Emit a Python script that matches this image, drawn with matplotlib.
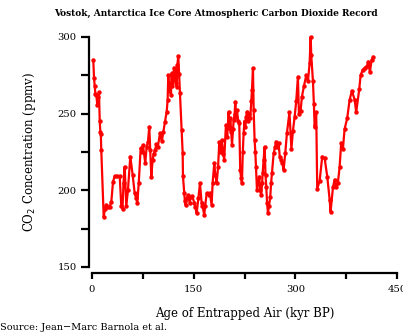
import matplotlib
matplotlib.use("Agg")
import matplotlib.pyplot as plt
from matplotlib.ticker import MultipleLocator

# Vostok CO2 record
age = [1.9, 3, 4, 5, 6.5, 7.8, 9, 10.3, 11.4, 12.3, 13, 13.7, 17.3, 19, 21.1,
       23, 26.1, 28.5, 31, 33.5, 37, 40.9, 43.2, 45, 46.5, 48.2, 50.6, 53,
       56.5, 60, 63, 65.3, 66.8, 69, 71.8, 73.5, 75.2, 78.6, 80.5, 82.6, 84.5,
       86, 87.5, 89.5, 91, 92.9, 95, 97, 100.3, 103, 105.2, 107.7, 110.2,
       111.6, 112.5, 114, 115, 116.5, 117.5, 118.5, 119.9, 121, 122.4, 123.5,
       124.9, 126, 127.3, 128.5, 129.8, 132.3, 133.8, 134.2, 136.1, 137,
       138.2, 140, 142, 144, 146, 148, 150.9, 152.5, 154.4, 157, 159.3, 161.8,
       163, 165.6, 167, 169.2, 172, 174, 176.5, 178, 180.4, 182, 183.9, 186,
       187.8, 189.5, 191.3, 193.7, 195, 197.6, 199.5, 201.6, 203, 204, 205.5,
       206.5, 208, 209, 210.5, 211.4, 212.5, 213.9, 215.5, 217.3, 218.7, 220,
       221.2, 222.5, 223.7, 225, 226.1, 227.5, 228.6, 230, 231.5, 233.5, 235,
       236, 237.5, 238.5, 239.9, 241, 241.9, 243.4, 245, 246.8, 248, 249.7,
       251, 251.8, 253.2, 254.7, 256, 257.1, 258.3, 259.6, 261.2, 263, 264.3,
       265.5, 268, 270, 271.4, 273.5, 275.4, 277, 279.2, 281, 282.7, 285.1,
       287.6, 291.3, 294.2, 296.5, 299, 301.3, 303.8, 305.3, 307.8, 309.7,
       312.7, 316.1, 318.6, 321.1, 322.6, 323.5, 326, 327.4, 328.5, 330.8,
       332.3, 335.8, 339.7, 343.2, 347.1, 350.6, 352, 355.5, 358, 360.3, 362.8,
       365.3, 367.7, 370.2, 372.7, 376.5, 380.1, 383.5, 387.5, 389.8, 394.3,
       396.3, 399.3, 402.7, 406, 407.5, 410, 412.5, 414.9]
co2 = [285, 273, 268, 263, 262, 255.6, 261, 264, 245.4, 238, 236.7, 226, 182.4,
       188, 190.4, 189, 189.3, 192.5, 205.6, 209.3, 209.3, 209.3, 189.8, 188,
       205, 215.4, 189.8, 200, 222, 210, 198, 194.8, 191.5, 205, 227.4, 225,
       229.5, 217.6, 228, 231.7, 241.5, 226, 209, 220, 224, 226, 230, 228,
       237.2, 232, 238.2, 244.8, 251.3, 258.9, 275.2, 265, 269.8, 262, 276.3,
       268, 272, 280, 278.5, 270, 267.6, 282, 287.6, 276, 263.3, 239.3, 224.1,
       209.3, 198, 193, 190.4, 195, 196.9, 192, 195.8, 196, 191.9, 189, 185,
       195, 204.6, 191.5, 190, 183.9, 190, 198, 197, 198, 190.4, 205, 217.6,
       210, 204.6, 215, 231.7, 225, 232.8, 224, 219.8, 242.6, 235, 251.3, 240,
       247, 238, 229.5, 240, 245.9, 250, 257.8, 248, 252.4, 245, 243.7, 213.2,
       208, 204.6, 225, 237.2, 245, 241.5, 248, 251.3, 245, 250, 247, 258,
       265.4, 279.6, 252.4, 232.8, 225, 215.4, 200.2, 205, 208.9, 200, 196.9,
       205, 211.1, 220, 228.4, 210, 202.4, 192, 185, 190, 195.8, 205, 211.1,
       224.1, 228, 231.7, 228, 230.7, 222, 219.8, 218, 213.2, 224.1, 237.2,
       251, 227, 239, 248, 258, 274, 250, 252, 261, 268, 275, 271, 283, 300,
       288, 271, 256, 241, 251, 201, 206, 222, 221, 209, 194, 186, 202, 207,
       202, 205, 215, 231, 227, 240, 247, 259, 265, 259, 251, 266, 275, 278.5,
       280, 281, 284, 277, 285, 287]

plt.rcParams['font.family'] = 'DejaVu Serif'

fig = plt.figure(figsize=(4.03, 3.34), dpi=100)
ax = fig.add_axes([92 / 403, 67 / 334, 305 / 403, 230 / 334])

ax.plot(age, co2, color='red', linewidth=1.6, marker='o', markersize=3.2,
        markeredgewidth=0, clip_on=False)

ax.set_xlim(0, 450)
ax.set_ylim(150, 300)
ax.xaxis.set_major_locator(MultipleLocator(150))
ax.xaxis.set_minor_locator(MultipleLocator(75))
ax.yaxis.set_major_locator(MultipleLocator(50))
ax.yaxis.set_minor_locator(MultipleLocator(25))

ax.spines['top'].set_visible(False)
ax.spines['right'].set_visible(False)
ax.spines['left'].set_position(('outward', 2))
ax.spines['bottom'].set_position(('outward', 4))
ax.spines['left'].set_linewidth(1.6)
ax.spines['bottom'].set_linewidth(1.6)
ax.tick_params(axis='y', which='major', length=6, width=1.6, labelsize=7.2, pad=3)
ax.tick_params(axis='y', which='minor', length=5.5, width=1.6)
ax.tick_params(axis='x', which='major', length=4.5, width=1.6, labelsize=7.2, pad=4.5)
ax.tick_params(axis='x', which='minor', length=4.5, width=1.6)

ax.set_xlabel('Age of Entrapped Air (kyr BP)', fontsize=8.5, labelpad=9)
ax.set_ylabel('CO$_2$ Concentration (ppmv)', fontsize=8.5, labelpad=14)

fig.text(0.535, 0.96, 'Vostok, Antarctica Ice Core Atmospheric Carbon Dioxide Record',
         ha='center', va='center', fontsize=6.5, fontweight='bold')
fig.text(0.0, 0.018, 'Source: Jean\u2212Marc Barnola et al.', ha='left',
         va='center', fontsize=7)

fig.savefig('out.png', dpi=100)
